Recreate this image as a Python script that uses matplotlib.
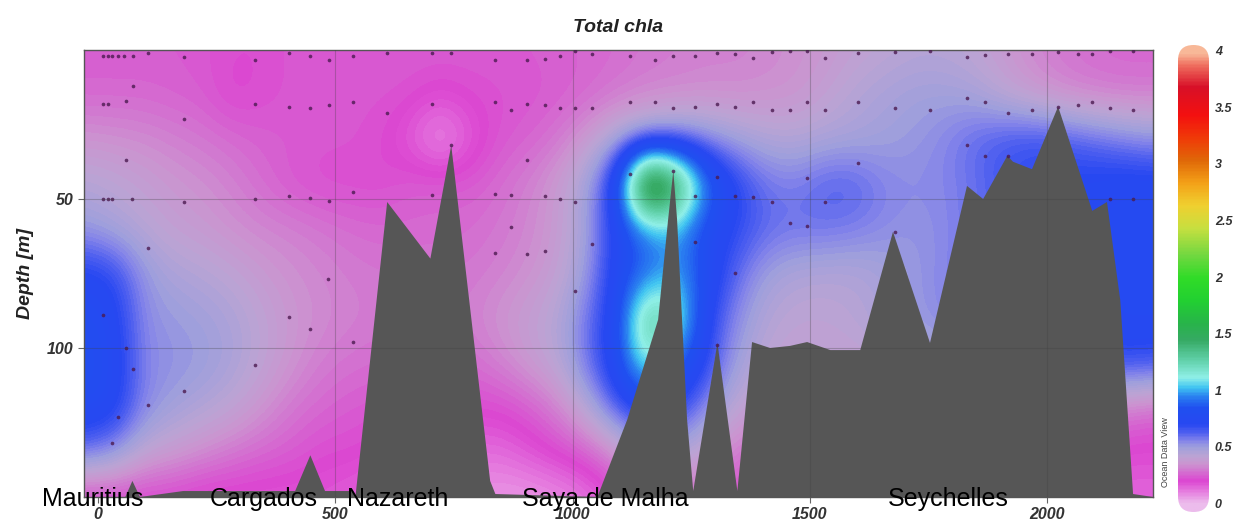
import numpy as np
import matplotlib
matplotlib.use('Agg')
import matplotlib.pyplot as plt
from matplotlib.colors import LinearSegmentedColormap
from matplotlib.patches import FancyBboxPatch

plt.rcParams['font.family'] = ['Liberation Sans', 'DejaVu Sans']

# section grid: distance (km) and depth (m) of the chla nodes
dist_nodes = np.arange(-30, 2221, 62.5)
depth_nodes = np.arange(0, 151, 15)

# chla values, one list per depth row (0, 15, ... 150 m)
chla_d0 = [0.25, 0.25, 0.25, 0.25, 0.24, 0.22, 0.22, 0.24, 0.25, 0.25, 0.25, 0.25, 0.25, 0.25, 0.25, 0.25, 0.26, 0.27,
           0.28, 0.3, 0.31, 0.32, 0.32, 0.33, 0.35, 0.37, 0.4, 0.42, 0.44, 0.44, 0.42, 0.38, 0.33, 0.3, 0.28, 0.27, 0.27]
chla_d15 = [0.27, 0.27, 0.27, 0.26, 0.25, 0.2, 0.22, 0.24, 0.24, 0.24, 0.24, 0.23, 0.2, 0.22, 0.23, 0.24, 0.25, 0.27,
            0.3, 0.32, 0.33, 0.34, 0.34, 0.35, 0.36, 0.4, 0.45, 0.48, 0.5, 0.5, 0.48, 0.42, 0.37, 0.33, 0.31, 0.3, 0.3]
chla_d30 = [0.36, 0.35, 0.34, 0.32, 0.3, 0.28, 0.26, 0.25, 0.24, 0.24, 0.22, 0.16, 0.06, 0.16, 0.24, 0.26, 0.3, 0.38,
            0.48, 0.55, 0.58, 0.55, 0.5, 0.46, 0.45, 0.47, 0.48, 0.5, 0.52, 0.56, 0.62, 0.66, 0.68, 0.66, 0.62, 0.58, 0.55]
chla_d45 = [0.45, 0.43, 0.4, 0.37, 0.35, 0.32, 0.28, 0.24, 0.22, 0.22, 0.22, 0.25, 0.26, 0.25, 0.28, 0.32, 0.38, 0.5,
            0.8, 2.0, 1.6, 0.95, 0.72, 0.6, 0.58, 0.64, 0.64, 0.57, 0.55, 0.56, 0.6, 0.66, 0.7, 0.72, 0.74, 0.76, 0.76]
chla_d60 = [0.52, 0.48, 0.44, 0.4, 0.38, 0.35, 0.33, 0.32, 0.3, 0.28, 0.27, 0.27, 0.27, 0.28, 0.3, 0.33, 0.38, 0.5,
            0.75, 0.95, 1.0, 0.78, 0.7, 0.62, 0.6, 0.6, 0.58, 0.55, 0.53, 0.55, 0.6, 0.65, 0.7, 0.72, 0.74, 0.76, 0.76]
chla_d75 = [0.74, 0.7, 0.53, 0.47, 0.45, 0.42, 0.38, 0.35, 0.33, 0.31, 0.3, 0.3, 0.3, 0.3, 0.32, 0.35, 0.4, 0.52,
            0.78, 0.9, 1.0, 0.8, 0.62, 0.5, 0.46, 0.45, 0.45, 0.48, 0.52, 0.56, 0.6, 0.65, 0.7, 0.72, 0.74, 0.76, 0.76]
chla_d90 = [0.8, 0.76, 0.55, 0.52, 0.5, 0.47, 0.42, 0.37, 0.34, 0.32, 0.31, 0.31, 0.31, 0.32, 0.36, 0.4, 0.45, 0.6,
            0.78, 1.4, 1.2, 0.72, 0.55, 0.45, 0.42, 0.42, 0.44, 0.48, 0.52, 0.56, 0.6, 0.65, 0.7, 0.72, 0.74, 0.76, 0.76]
chla_d105 = [0.82, 0.78, 0.56, 0.54, 0.52, 0.48, 0.42, 0.36, 0.31, 0.29, 0.28, 0.28, 0.28, 0.28, 0.32, 0.38, 0.44, 0.6,
             0.8, 1.2, 0.9, 0.7, 0.5, 0.42, 0.4, 0.4, 0.4, 0.42, 0.44, 0.46, 0.48, 0.5, 0.55, 0.6, 0.65, 0.7, 0.68]
chla_d120 = [0.8, 0.76, 0.56, 0.5, 0.46, 0.42, 0.36, 0.3, 0.27, 0.25, 0.24, 0.23, 0.22, 0.22, 0.22, 0.25, 0.32, 0.45,
             0.65, 0.75, 0.7, 0.55, 0.42, 0.38, 0.38, 0.38, 0.38, 0.38, 0.38, 0.38, 0.38, 0.38, 0.38, 0.36, 0.33, 0.3, 0.27]
chla_d135 = [0.6, 0.55, 0.42, 0.38, 0.34, 0.3, 0.27, 0.25, 0.22, 0.22, 0.2, 0.18, 0.16, 0.14, 0.14, 0.18, 0.22, 0.26,
             0.35, 0.5, 0.45, 0.4, 0.3, 0.28, 0.28, 0.28, 0.28, 0.28, 0.28, 0.28, 0.28, 0.28, 0.26, 0.24, 0.22, 0.2, 0.2]
chla_d150 = [0.2, 0.2, 0.2, 0.2, 0.18, 0.18, 0.18, 0.18, 0.18, 0.16, 0.14, 0.12, 0.1, 0.08, 0.06, 0.06, 0.08, 0.12,
             0.2, 0.3, 0.3, 0.25, 0.22, 0.22, 0.22, 0.22, 0.22, 0.22, 0.22, 0.22, 0.22, 0.22, 0.2, 0.18, 0.16, 0.15, 0.15]

# bottom topography (km, m)
bathy_x = [-30, 57, 72, 88, 179, 415, 447, 478, 537, 542, 609, 700, 744, 826, 837, 1052, 1115, 1180, 1201, 1212,
           1220, 1241, 1254, 1305, 1347, 1378, 1416, 1458, 1494, 1543, 1606, 1675, 1753, 1831, 1865, 1916, 1928,
           1968, 2023, 2095, 2126, 2154, 2181, 2223]
bathy_d = [150, 150, 144.6, 150, 148, 148, 136, 148, 148, 150, 51, 70, 32, 144.6, 149, 150, 124, 90.5, 57, 40.5,
           57, 124, 148, 98.3, 148, 98, 100, 99.3, 98, 100.7, 100.7, 61, 98.3, 45.6, 50, 35.5, 37.5,
           40, 19, 54, 51, 84, 149, 150]

# sample positions (km, m)
dots_x = [10, 21, 30, 42, 55, 74, 105, 181, 331, 402, 447, 487, 537, 609, 704, 744, 837, 904, 942, 974, 1005, 1041,
          1121, 1174, 1212, 1258, 1305, 1342, 1380, 1420, 1458, 1494, 1532, 1602, 1680, 1753, 1831, 1869, 1918, 1968,
          2023, 2065, 2095, 2133, 2181,
          10, 21, 59, 74, 181, 331, 402, 447, 487, 537, 609, 704, 837, 870, 904, 942, 974, 1005, 1041, 1121, 1174,
          1212, 1258, 1305, 1342, 1380, 1420, 1458, 1494, 1532, 1602, 1680, 1753, 1831, 1869, 1918, 1968, 2023, 2065,
          2095, 2133, 2181,
          59, 744, 904, 1121, 1212, 1305, 1494, 1602, 1831, 1869, 1918,
          10, 21, 30, 72, 181, 331, 402, 447, 487, 537, 704, 837, 870, 942, 974, 1005, 1258, 1342, 1380, 1420, 1532,
          2133, 2181,
          105, 870, 1041, 1258, 1458, 1494, 837, 904, 942, 485, 1342, 1680, 1005,
          10, 402, 447, 537, 59, 74, 331, 181, 105, 42, 30, 1305]
dots_d = [2, 2, 2, 2, 2, 2, 1, 2.4, 3.4, 1, 2, 3.4, 2, 1, 1, 1, 3.4, 3.4, 3, 2, 0.5, 1.4,
          2, 3.4, 2, 2, 1, 1.4, 2.7, 0.7, 0.3, 0.3, 2.7, 1, 0.7, 0.3, 2.4, 1.7, 1.4, 1.4,
          0.7, 1.4, 1.4, 0.3, 0.3,
          18, 18, 17, 12, 23, 18, 19, 19.3, 18.6, 17.6, 21, 18.2, 17.6, 20.3, 18.2, 18.6, 19.3, 19.3, 19.3, 17.6, 17.6,
          19.6, 19, 18.2, 19, 17.6, 20, 20, 17.6, 20.3, 17.6, 19.6, 20, 16, 17.6, 21, 20, 19, 18.6,
          17.6, 19.6, 20,
          37, 32, 37, 41.5, 40.5, 42.6, 43, 38, 32, 35.5, 35.5,
          50, 50, 50, 50, 51, 50, 49, 49.6, 50.7, 47.6, 48.6, 48.3, 48.6, 49, 50, 51, 49, 49, 49.3, 51, 51,
          50, 50,
          66.5, 59.5, 65, 64.5, 58, 59, 68, 68.6, 67.6, 77, 74.7, 61, 81,
          89, 89.5, 93.6, 98, 100, 107, 105.7, 114.5, 119, 123, 132, 99]

cbar_ticks = [0, 0.5, 1, 1.5, 2, 2.5, 3, 3.5, 4]
sites = ['Mauritius', 'Cargados', 'Nazareth', 'Saya de Malha', 'Seychelles']
site_x = [-118, 234, 525, 894, 1665]

# ODV-like palette
odv = LinearSegmentedColormap.from_list('odv', [
    (0.0, '#ecbcec'), (0.10 / 4, '#e680e0'), (0.20 / 4, '#dc46d2'), (0.28 / 4, '#d470d0'),
    (0.35 / 4, '#cc94d0'), (0.42 / 4, '#bca4d4'), (0.50 / 4, '#a0a0dc'), (0.56 / 4, '#8484ea'),
    (0.63 / 4, '#5060f0'), (0.70 / 4, '#2848f2'), (0.85 / 4, '#2050f0'), (0.95 / 4, '#2a80f0'),
    (1.03 / 4, '#40c4f2'), (1.12 / 4, '#90f0e8'), (1.28 / 4, '#60d0a8'), (1.45 / 4, '#36aa64'),
    (1.60 / 4, '#28b44a'), (1.80 / 4, '#22d032'), (2.00 / 4, '#30dc28'), (2.20 / 4, '#70d840'),
    (2.45 / 4, '#c8e040'), (2.65 / 4, '#f0d030'), (2.85 / 4, '#f4a018'), (3.05 / 4, '#e06808'),
    (3.25 / 4, '#f03a08'), (3.45 / 4, '#f41010'), (3.70 / 4, '#d81028'), (3.90 / 4, '#f07060'),
    (1.0, '#f8b898')])

W, H = 1242, 529
fig = plt.figure(figsize=(W / 100, H / 100), dpi=100)
ax = fig.add_axes([84 / W, 1 - 497 / H, (1153 - 84) / W, (497 - 50) / H])

chla = np.array([chla_d0, chla_d15, chla_d30, chla_d45, chla_d60, chla_d75, chla_d90,
                 chla_d105, chla_d120, chla_d135, chla_d150])
dx = dist_nodes[1] - dist_nodes[0]
dz = depth_nodes[1] - depth_nodes[0]
ax.imshow(chla, cmap=odv, vmin=0, vmax=4, aspect='auto', origin='upper',
          interpolation='bicubic', interpolation_stage='data',
          extent=(dist_nodes[0] - dx / 2, dist_nodes[-1] + dx / 2,
                  depth_nodes[-1] + dz / 2, depth_nodes[0] - dz / 2), zorder=0)

ax.fill(bathy_x, bathy_d, color='#565656', lw=0, zorder=2)
ax.scatter(dots_x, dots_d, s=7, color='#4b1a50', alpha=0.8, linewidths=0, zorder=3)

for gx in [500, 1000, 1500, 2000]:
    ax.axvline(gx, color='#404040', lw=0.8, alpha=0.3, zorder=4)
for gy in [50, 100]:
    ax.axhline(gy, color='#404040', lw=0.8, alpha=0.3, zorder=4)

ax.set_xlim(-30, 2223)
ax.set_ylim(150, 0)
ax.set_xticks([0, 500, 1000, 1500, 2000])
ax.set_yticks([50, 100])
ax.tick_params(direction='out', length=4, width=0.8, color='#666666', labelcolor='#333333', labelsize=11.5)
for lab in ax.get_xticklabels() + ax.get_yticklabels():
    lab.set_fontweight('bold')
    lab.set_fontstyle('italic')
for sp in ax.spines.values():
    sp.set_color('#555555')
    sp.set_linewidth(1)

ax.set_ylabel('Depth [m]', fontsize=14, fontweight='bold', fontstyle='italic', color='#222222')
ax.yaxis.set_label_coords(-0.047, 0.5)
ax.text(0.5, 1 + 22 / 447, 'Total chla', transform=ax.transAxes, ha='center', va='center',
        fontsize=14, fontweight='bold', fontstyle='italic', color='#222222')

for name, sx in zip(sites, site_x):
    ax.text(sx, 153, name, ha='left', va='baseline', fontsize=18, color='black', clip_on=False, zorder=6)

# colour bar with rounded ends
cax = fig.add_axes([1178 / W, 1 - 512 / H, 31 / W, 467 / H])
lo, hi = -0.062, 4.062
grad = np.linspace(hi, lo, 400).reshape(-1, 1)
cim = cax.imshow(grad, cmap=odv, vmin=0, vmax=4, aspect='auto', extent=(0, 1, lo, hi))
cax.set_xlim(0, 1)
cax.set_ylim(lo, hi)
cap = FancyBboxPatch((0, lo), 1, hi - lo, boxstyle='round,pad=0,rounding_size=0.5',
                     mutation_aspect=0.273, transform=cax.transData, facecolor='none', edgecolor='none')
cax.add_patch(cap)
cim.set_clip_path(cap)
cax.axis('off')
for t in cbar_ticks:
    cax.text(1.19, t, f'{t:g}', ha='left', va='center', fontsize=9, fontweight='bold',
             fontstyle='italic', color='#333333', clip_on=False)

fig.text(1165 / W, 1 - 452 / H, 'Ocean Data View', rotation=90, ha='center', va='center',
         fontsize=6.5, color='#444444')

fig.savefig('out.png', dpi=100)
